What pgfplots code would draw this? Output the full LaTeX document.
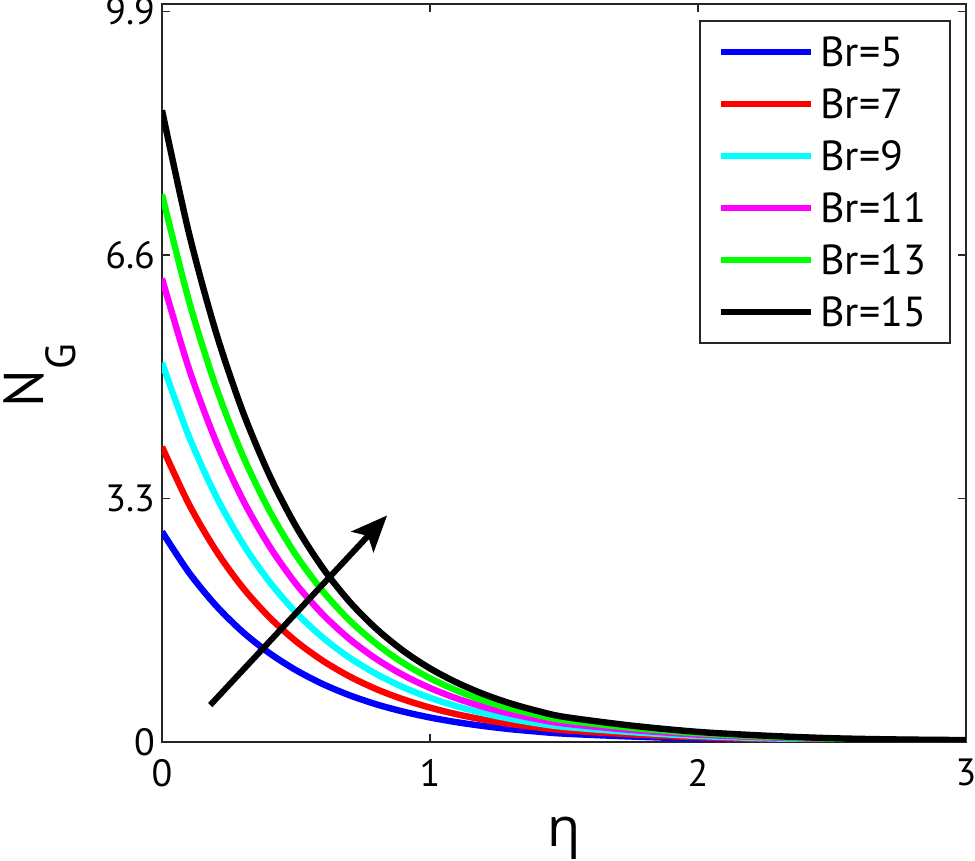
\documentclass[border=0pt]{standalone}
\usepackage{fontspec}
\setmainfont{PT Sans}
\newfontfamily\greekfont{Open Sans}
\usepackage{pgfplots}
\pgfplotsset{compat=1.18}
\usetikzlibrary{arrows.meta,calc}

\definecolor{cBlue}{rgb}{0,0,1}
\definecolor{cRed}{rgb}{1,0,0}
\definecolor{cCyan}{rgb}{0,1,1}
\definecolor{cMag}{rgb}{1,0,1}
\definecolor{cGreen}{rgb}{0,1,0}

\begin{document}
\begin{tikzpicture}
\begin{axis}[
  scale only axis,
  width=402pt, height=369pt,
  xmin=0, xmax=3, ymin=0, ymax=10,
  xtick={0,1,2,3},
  ytick={0,3.3,6.6,9.9},
  yticklabels={0,3.3,6.6,9.9},
  tick align=inside,
  major tick length=4pt,
  tick style={line width=0.8pt, black!85},
  axis line style={line width=1pt, black!85},
  /pgf/number format/assume math mode=true,
  tick label style={font=\fontsize{19}{22}\selectfont},
  xticklabel style={yshift=-5pt},
  xlabel={{\greekfont η}},
  xlabel style={at={(axis description cs:0.5,0)}, anchor=base,
                yshift=-52.5pt, font=\fontsize{27}{30}\selectfont},
  ylabel={N\raisebox{-16pt}{\fontsize{21}{22}\selectfont G}},
  ylabel style={at={(axis description cs:-0.152,0.496)}, anchor=center,
                font=\fontsize{28}{30}\selectfont},
  legend image code/.code={\draw[#1] (0pt,0pt) -- (45pt,0pt);},
  legend cell align=left,
  legend style={at={(axis description cs:0.9813,0.9783)}, anchor=north east,
                draw=black!85, line width=0.9pt, fill=white,
                inner xsep=9pt, inner ysep=2.5pt, row sep=0pt,
                font=\fontsize{21}{24}\selectfont,
                nodes={inner xsep=3pt, inner ysep=5.5pt,
                       text height=15pt, text depth=0pt}},
  every axis plot/.append style={line width=3.2pt, smooth, tension=0.5,
                                 line join=round},
]

%% Br = 5
\addplot[cBlue] coordinates {
 (0,2.850) (0.1,2.299) (0.2,1.854) (0.3,1.495) (0.4,1.206) (0.5,0.973)
 (0.6,0.785) (0.7,0.633) (0.8,0.510) (0.9,0.412) (1.0,0.332) (1.1,0.268)
 (1.2,0.216) (1.3,0.174) (1.4,0.141) (1.5,0.113) (1.75,0.074) (2.0,0.046)
 (2.25,0.029) (2.5,0.017) (2.75,0.011) (3.0,0.009)};
\addlegendentry{Br=5}

%% Br = 7
\addplot[cRed] coordinates {
 (0,4.000) (0.1,3.226) (0.2,2.602) (0.3,2.098) (0.4,1.693) (0.5,1.365)
 (0.6,1.101) (0.7,0.888) (0.8,0.716) (0.9,0.578) (1.0,0.466) (1.1,0.376)
 (1.2,0.303) (1.3,0.244) (1.4,0.197) (1.5,0.159) (1.75,0.104) (2.0,0.064)
 (2.25,0.040) (2.5,0.024) (2.75,0.016) (3.0,0.012)};
\addlegendentry{Br=7}

%% Br = 9
\addplot[cCyan] coordinates {
 (0,5.140) (0.1,4.145) (0.2,3.344) (0.3,2.696) (0.4,2.175) (0.5,1.754)
 (0.6,1.415) (0.7,1.141) (0.8,0.921) (0.9,0.742) (1.0,0.599) (1.1,0.483)
 (1.2,0.390) (1.3,0.314) (1.4,0.253) (1.5,0.205) (1.75,0.134) (2.0,0.082)
 (2.25,0.051) (2.5,0.031) (2.75,0.021) (3.0,0.015)};
\addlegendentry{Br=9}

%% Br = 11
\addplot[cMag] coordinates {
 (0,6.280) (0.1,5.065) (0.2,4.085) (0.3,3.294) (0.4,2.658) (0.5,2.143)
 (0.6,1.729) (0.7,1.394) (0.8,1.125) (0.9,0.907) (1.0,0.732) (1.1,0.590)
 (1.2,0.476) (1.3,0.384) (1.4,0.310) (1.5,0.250) (1.75,0.163) (2.0,0.100)
 (2.25,0.063) (2.5,0.038) (2.75,0.025) (3.0,0.019)};
\addlegendentry{Br=11}

%% Br = 13
\addplot[cGreen] coordinates {
 (0,7.420) (0.1,5.984) (0.2,4.827) (0.3,3.893) (0.4,3.140) (0.5,2.532)
 (0.6,2.043) (0.7,1.647) (0.8,1.329) (0.9,1.071) (1.0,0.864) (1.1,0.697)
 (1.2,0.562) (1.3,0.453) (1.4,0.366) (1.5,0.295) (1.75,0.193) (2.0,0.119)
 (2.25,0.074) (2.5,0.045) (2.75,0.030) (3.0,0.022)};
\addlegendentry{Br=13}

%% Br = 15
\addplot[black] coordinates {
 (0,8.560) (0.1,6.904) (0.2,5.568) (0.3,4.491) (0.4,3.623) (0.5,2.922)
 (0.6,2.357) (0.7,1.900) (0.8,1.533) (0.9,1.236) (1.0,0.997) (1.1,0.805)
 (1.2,0.649) (1.3,0.523) (1.4,0.422) (1.5,0.341) (1.75,0.223) (2.0,0.137)
 (2.25,0.086) (2.5,0.051) (2.75,0.034) (3.0,0.026)};
\addlegendentry{Br=15}

%% trend arrow
\draw[line width=3pt, -{Stealth[length=18pt, width=15pt, inset=4pt]}]
  (axis cs:0.18,0.50) -- (axis cs:0.84,3.07);

\coordinate (BL) at (rel axis cs:0,0);
\coordinate (TR) at (rel axis cs:1,1);
\end{axis}
\pgfresetboundingbox
\path[use as bounding box] ($(BL)+(-81pt,-59.5pt)$) rectangle ($(TR)+(4.5pt,2pt)$);
\end{tikzpicture}
\end{document}
